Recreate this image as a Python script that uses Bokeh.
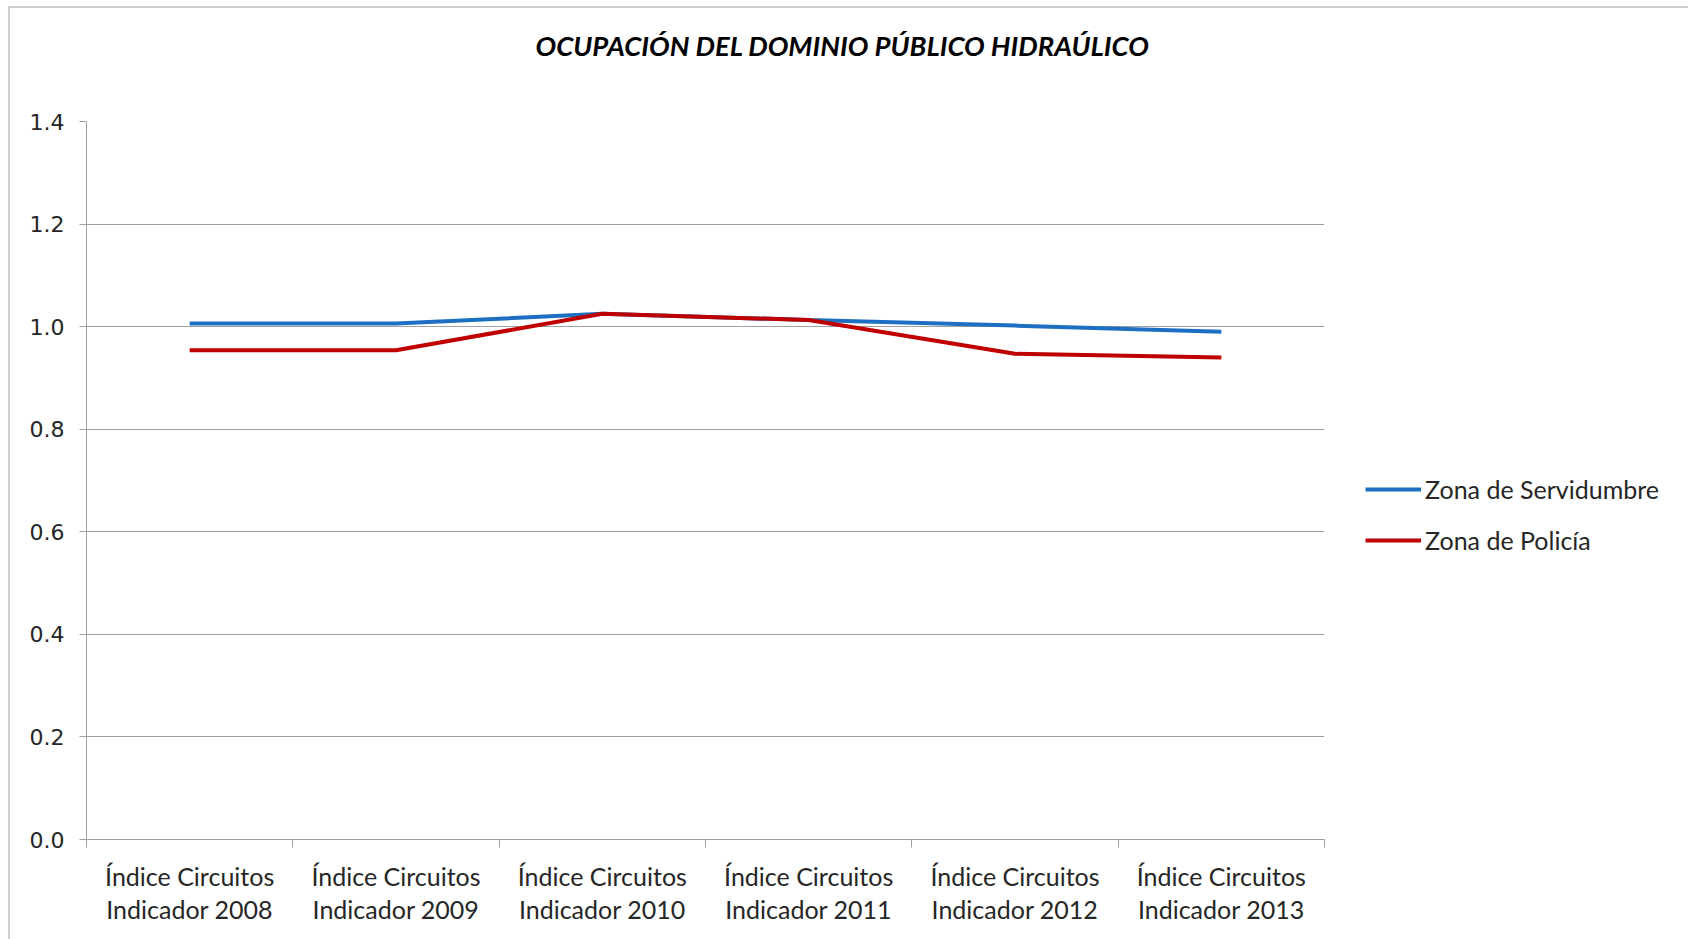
from bokeh.plotting import figure
from bokeh.models import (FixedTicker, Legend, LegendItem, Range1d, NumeralTickFormatter,
                          LinearAxis, CustomLabelingPolicy)
from bokeh.embed import file_html
from bokeh.resources import INLINE

categories = ["Índice Circuitos\nIndicador 2008", "Índice Circuitos\nIndicador 2009",
              "Índice Circuitos\nIndicador 2010", "Índice Circuitos\nIndicador 2011",
              "Índice Circuitos\nIndicador 2012", "Índice Circuitos\nIndicador 2013"]
servidumbre = [1.006, 1.006, 1.025, 1.013, 1.002, 0.990]
policia = [0.954, 0.954, 1.025, 1.013, 0.947, 0.940]
y_ticks = [0.0, 0.2, 0.4, 0.6, 0.8, 1.0, 1.2, 1.4]
title_text = "OCUPACIÓN DEL DOMINIO PÚBLICO HIDRAÚLICO"

xs = [i + 0.5 for i in range(len(categories))]

p = figure(frame_width=1238, frame_height=718, output_backend="svg", toolbar_location=None,
           x_range=Range1d(0, len(categories)), y_range=Range1d(0, 1.4),
           min_border_left=86, min_border_right=10, min_border_top=121, min_border_bottom=100)

xa = p.below[0]

# invisible spacer between title and frame (one tick, no line, no label drawn)
spacer = LinearAxis(ticker=FixedTicker(ticks=[3]), axis_line_color=None,
                    major_tick_line_color=None, minor_tick_line_color=None,
                    major_tick_out=44, major_tick_in=0, minor_tick_out=0, minor_tick_in=0,
                    major_label_standoff=0,
                    major_label_policy=CustomLabelingPolicy(
                        code="for (const i of indices) { indices.unset(i) }\nreturn indices"))
p.add_layout(spacer, "above")

p.title.text = title_text
p.title.align = "left"
p.title.offset = 449
p.title.standoff = 10
p.title.text_font = "Lato"
p.title.text_font_style = "bold italic"
p.title.text_font_size = "27.5px"
p.title.text_color = "#000000"

p.outline_line_color = None
p.background_fill_color = "white"
p.border_fill_alpha = 0
p.styles = {
    "background": "linear-gradient(#cfcfcf, #cfcfcf) 8px 6px / 2px 100% no-repeat, "
                  "linear-gradient(#cfcfcf, #cfcfcf) 8px 6px / 100% 2px no-repeat, white"
}

# x axis
xa.ticker = FixedTicker(ticks=xs, minor_ticks=list(range(len(categories) + 1)))
xa.major_label_overrides = {x: c for x, c in zip(xs, categories)}
xa.major_tick_out = 0
xa.major_tick_in = 0
xa.minor_tick_out = 8
xa.minor_tick_in = 0
xa.minor_tick_line_color = "#a0a0a0"
xa.minor_tick_line_width = 1
xa.axis_line_color = "#a0a0a0"
xa.major_label_text_font = "Lato"
xa.major_label_text_font_size = "25px"
xa.major_label_text_line_height = 1.1
xa.major_label_text_color = "#262626"
xa.major_label_standoff = 13
p.xgrid.grid_line_color = None

# y axis
p.yaxis.ticker = FixedTicker(ticks=y_ticks)
p.yaxis.formatter = NumeralTickFormatter(format="0.0")
p.yaxis.major_tick_out = 7
p.yaxis.major_tick_in = 0
p.yaxis.minor_tick_line_color = None
p.yaxis.major_tick_line_color = "#a0a0a0"
p.yaxis.axis_line_color = "#a0a0a0"
p.yaxis.major_label_text_font = "DejaVu Sans"
p.yaxis.major_label_text_font_size = "22px"
p.yaxis.major_label_text_color = "#262626"
p.yaxis.major_label_standoff = 15
p.ygrid.ticker = FixedTicker(ticks=y_ticks)
p.ygrid.grid_line_color = "#a0a0a0"
p.ygrid.grid_line_width = 1

r1 = p.line(xs, servidumbre, line_color="#1c6fc1", line_width=4)
r2 = p.line(xs, policia, line_color="#c00000", line_width=4)

legend = Legend(items=[LegendItem(label="Zona de Servidumbre", renderers=[r1]),
                       LegendItem(label="Zona de Policía", renderers=[r2])],
                location=(41, 284), orientation="vertical")
legend.label_text_font = "Lato"
legend.label_text_font_size = "25px"
legend.label_text_color = "#262626"
legend.glyph_width = 56
legend.glyph_height = 26
legend.label_height = 26
legend.label_standoff = 4
legend.spacing = 21
legend.padding = 0
legend.margin = 0
legend.border_line_color = None
legend.background_fill_alpha = 0
p.add_layout(legend, "right")

open("out.html", "w").write(file_html(p, INLINE))
